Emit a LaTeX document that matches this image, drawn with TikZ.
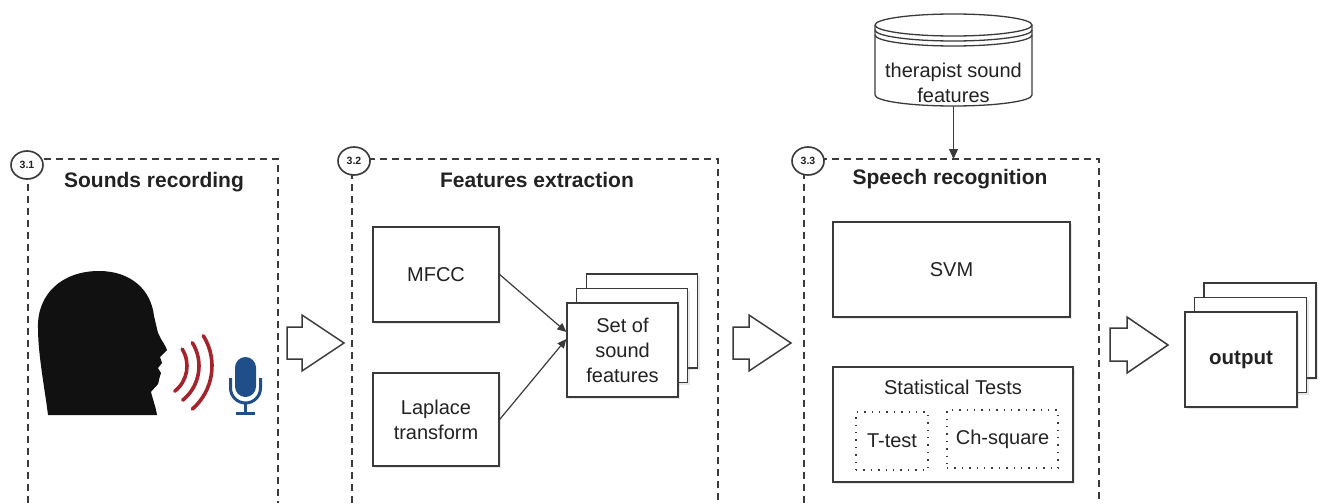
\documentclass[tikz,border=0pt]{standalone}
\usepackage{fontspec}
\setmainfont{Liberation Sans}
\usetikzlibrary{shadows,shapes.geometric,arrows.meta,calc}

\definecolor{ink}{HTML}{3A3A3A}
\definecolor{txt}{HTML}{222222}
\definecolor{wave}{HTML}{A5232A}
\definecolor{micblue}{HTML}{1F4E88}
\definecolor{headblack}{HTML}{111111}

\tikzset{
  panel/.style={draw=ink, line width=1.3pt, dash pattern=on 7pt off 5pt},
  badge/.style={ellipse, draw=ink, line width=1.6pt, fill=white, minimum width=32pt,
    minimum height=28pt, inner sep=0pt, text=txt,
    font=\fontsize{10.5}{12}\selectfont\bfseries,
    drop shadow={shadow xshift=1pt,shadow yshift=-1pt,opacity=0.2}},
  paneltitle/.style={font=\fontsize{21}{25}\selectfont\bfseries, text=txt},
  box/.style={draw=ink, line width=1.3pt, fill=white, inner sep=0pt, text=txt,
    font=\fontsize{20}{25}\selectfont, align=center,
    drop shadow={shadow xshift=2pt,shadow yshift=-2pt,opacity=0.18}},
  plain/.style={inner sep=0pt, text=txt, font=\fontsize{20}{25}\selectfont, align=center},
  dotbox/.style={draw=ink, line width=1.4pt, dash pattern=on 1.4pt off 6pt,
    inner sep=0pt, text=txt, font=\fontsize{20}{25}\selectfont},
  blockarrow/.style={draw=ink, line width=1.5pt, fill=white, line join=miter},
  link/.style={draw=ink, line width=1.2pt, -{Triangle[length=9pt,width=8pt]}},
  soundwave/.style={draw=wave, line width=3.6pt, line cap=round},
}

\begin{document}
\begin{tikzpicture}[x=1pt,y=-1pt]
\useasboundingbox (0,0) rectangle (1319,503);

% ---------- panel frames (open at the bottom) ----------
\draw[panel] (28,503) -- (28,159) -- (278,159) -- (278,503);
\draw[panel] (352,503) -- (352,159) -- (718,159) -- (718,503);
\draw[panel] (804,503) -- (804,159) -- (1099,159) -- (1099,503);

\node[badge] (b1) at (27,165) {3.1};
\node[badge] (b2) at (354,161) {3.2};
\node[badge] (b3) at (808,161) {3.3};

\node[paneltitle] (t1) at (154,182) {Sounds recording};
\node[paneltitle] (t2) at (537,180) {Features extraction};
\node[paneltitle] (t3) at (950,179) {Speech recognition};

% ---------- speaker silhouette ----------
\fill[headblack] (48,415) .. controls (45,390) and (38,355) .. (38,328)
  .. controls (37,294) and (62,271) .. (99,271)
  .. controls (130,271) and (151,289) .. (154,316)
  -- (158,333)
  .. controls (161,340) and (166,346) .. (167,350)
  -- (160,357) -- (162,363) -- (158,368) -- (161,373)
  .. controls (159,378) and (159,382) .. (158,384)
  .. controls (155,388) and (152,390) .. (151,392)
  .. controls (153,400) and (156,408) .. (157,415)
  -- cycle;

% sound waves: concentric arcs in front of the mouth
\coordinate (mouth) at (155,366);
\draw[soundwave] ($(mouth)+(32:32pt)$) arc[start angle=32, end angle=-52, radius=32pt];
\draw[soundwave] ($(mouth)+(32:44pt)$) arc[start angle=32, end angle=-51, radius=44pt];
\draw[soundwave] ($(mouth)+(32:57pt)$) arc[start angle=32, end angle=-49, radius=57pt];

% microphone
\fill[micblue, rounded corners=10.5pt] (235,357) rectangle (256,397);
\draw[micblue, line width=3pt] (230.5,378) -- (230.5,388)
  arc[start angle=180, end angle=360, radius=15pt] -- (260.5,378);
\draw[micblue, line width=3pt] (245.5,403) -- (245.5,412);
\draw[micblue, line width=3pt] (236,413) -- (255,413);

% ---------- block arrows between stages ----------
\draw[blockarrow] (287,327) -- (302,327) -- (302,315) -- (344,343) -- (302,371) -- (302,359) -- (287,359) -- cycle;
\draw[blockarrow] (733,327) -- (749,327) -- (749,315) -- (791,343) -- (749,371) -- (749,359) -- (733,359) -- cycle;
\draw[blockarrow] (1110,328) -- (1127,328) -- (1127,317) -- (1168,345) -- (1127,373) -- (1127,361) -- (1110,361) -- cycle;

% ---------- feature extraction ----------
\node[box, minimum width=126pt, minimum height=95pt] (mfcc) at (436,274.5) {MFCC};
\node[box, minimum width=126pt, minimum height=93pt] (laplace) at (436,419.5) {Laplace\\transform};

\node[box, minimum width=111pt, minimum height=94pt] (set3) at (642,321) {};
\node[box, minimum width=111pt, minimum height=94pt] (set2) at (632,335.5) {};
\node[box, minimum width=111pt, minimum height=94pt] (set) at (622.5,350) {Set of\\sound\\features};

\draw[link] (mfcc.east) -- ([yshift=18pt]set.west);
\draw[link] (laplace.east) -- ([yshift=11pt]set.west);

% ---------- therapist database ----------
\fill[white] (875,25) -- (875,95) arc[start angle=180, end angle=360, x radius=78.5pt, y radius=11pt]
  -- (1032,25) arc[start angle=0, end angle=180, x radius=78.5pt, y radius=11pt] -- cycle;
\begin{scope}[draw=ink, line width=1.3pt]
  \draw (875,25) -- (875,95) arc[start angle=180, end angle=360, x radius=78.5pt, y radius=11pt]
    -- (1032,25) arc[start angle=0, end angle=180, x radius=78.5pt, y radius=11pt];
  \draw (875,25) arc[start angle=180, end angle=360, x radius=78.5pt, y radius=11pt];
  \draw (875,30) arc[start angle=180, end angle=360, x radius=78.5pt, y radius=11pt];
  \draw (875,35) arc[start angle=180, end angle=360, x radius=78.5pt, y radius=11pt];
\end{scope}
\node[minimum width=157pt, minimum height=92pt, inner sep=0pt] (db) at (953.5,60) {};
\node[plain] (dblabel) at (953.5,82.5) {therapist sound\\features};
\coordinate (p3top) at (953.5,159);
\draw[draw=ink, line width=1.2pt, -{Triangle[length=10pt,width=9pt]}] (db.south) -- (p3top);

% ---------- speech recognition ----------
\node[box, minimum width=237pt, minimum height=95pt] (svm) at (951.5,269.5) {SVM};
\node[box, minimum width=240pt, minimum height=115pt] (stat) at (953,424.5) {};
\node[plain] (stattitle) at (953,387) {Statistical Tests};
\node[dotbox, minimum width=72pt, minimum height=58pt] (ttest) at (892,441) {T-test};
\node[dotbox, minimum width=111pt, minimum height=58pt] (chisq) at (1002.5,439) {Ch-square};

% ---------- output ----------
\node[box, minimum width=112pt, minimum height=95pt] (out3) at (1260,330.5) {};
\node[box, minimum width=112pt, minimum height=95pt] (out2) at (1250.5,345) {};
\node[box, minimum width=112pt, minimum height=95pt, font=\fontsize{20.5}{25}\selectfont\bfseries] (out) at (1241,359.5) {output};

\end{tikzpicture}
\end{document}
